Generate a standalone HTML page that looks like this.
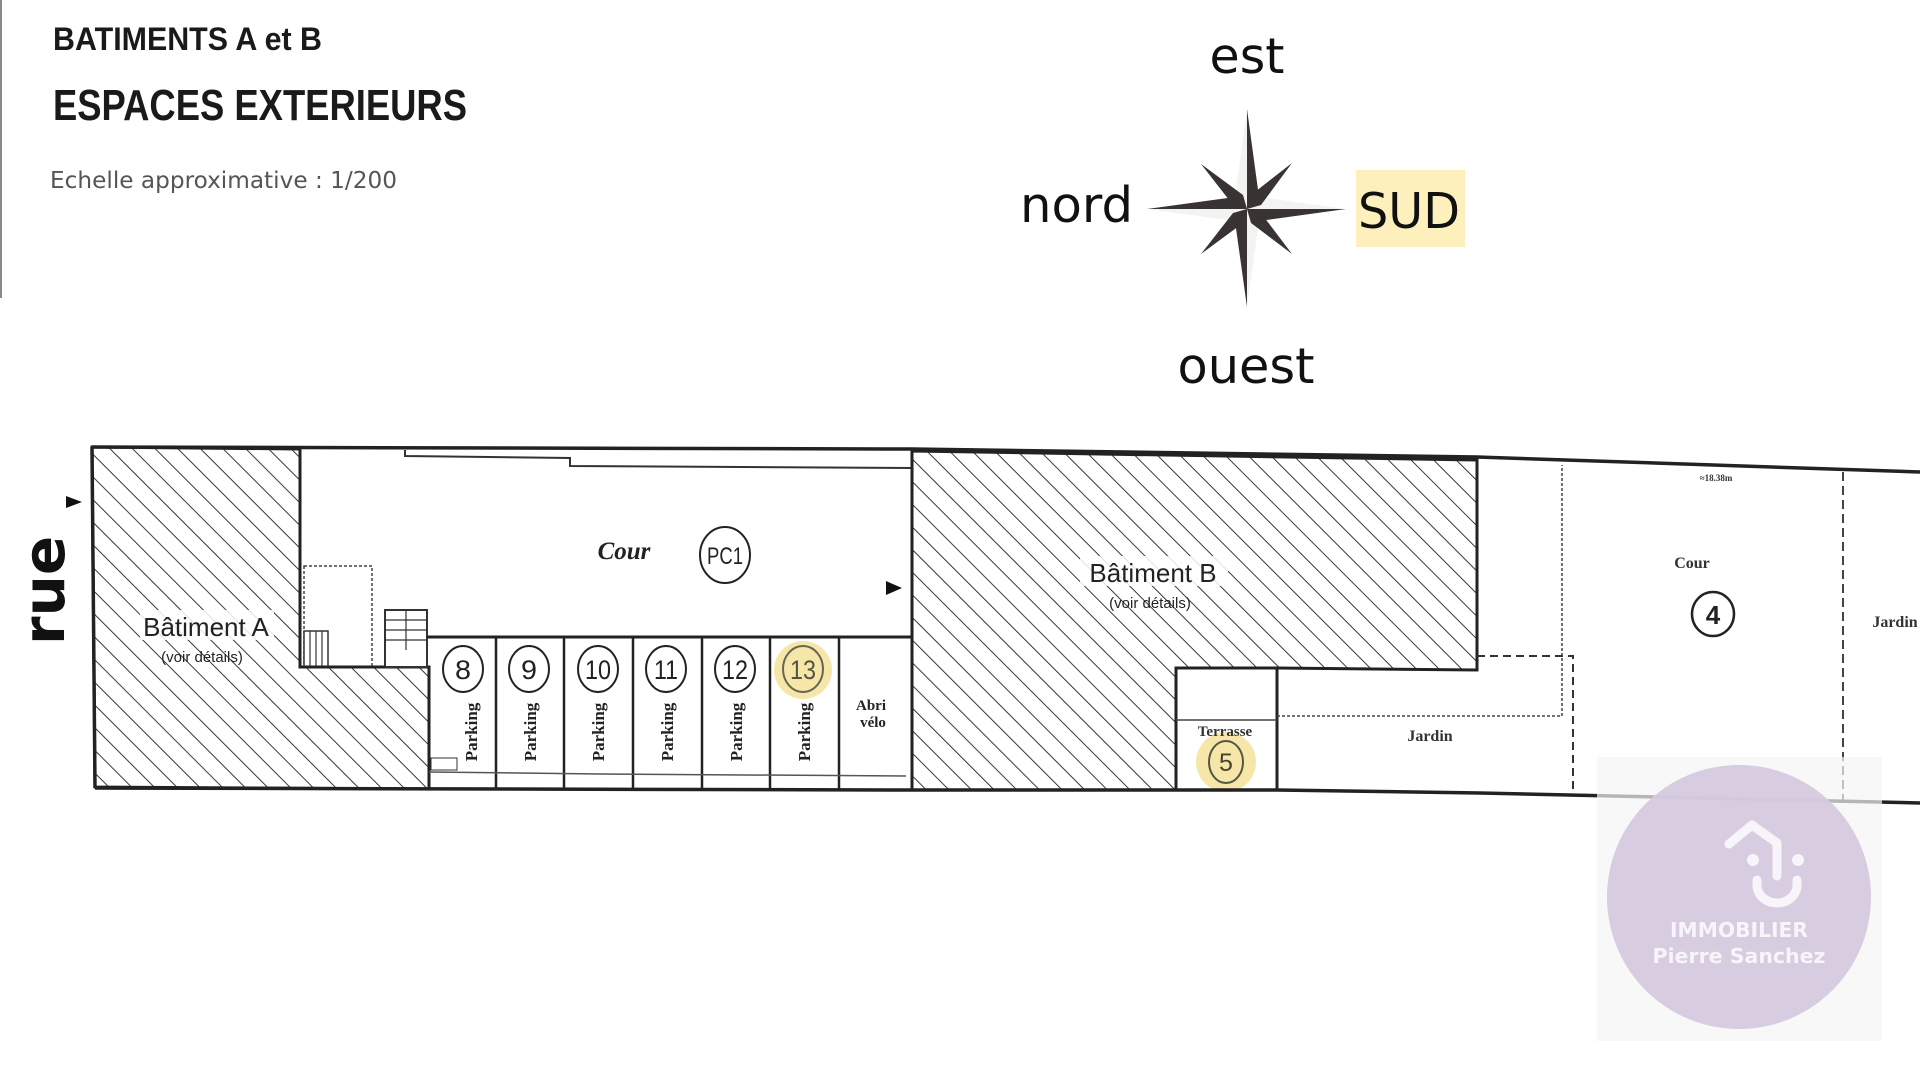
<!DOCTYPE html>
<html><head><meta charset="utf-8"><style>
html,body{margin:0;padding:0;background:#fff;width:1920px;height:1080px;overflow:hidden}
svg{display:block}
</style></head><body>
<svg width="1920" height="1080" viewBox="0 0 1920 1080" xmlns="http://www.w3.org/2000/svg">
<defs>
<pattern id="h" patternUnits="userSpaceOnUse" width="16" height="16" patternTransform="rotate(-45)">
<rect width="16" height="16" fill="#fff"/>
<line x1="0" y1="0" x2="0" y2="16" stroke="#222" stroke-width="1.8"/>
</pattern>
</defs>
<line x1="1" y1="0" x2="1" y2="298" stroke="#888" stroke-width="2"/>

<!-- titles -->
<text x="53" y="50" font-family="Liberation Sans, sans-serif" font-weight="bold" font-size="32" textLength="269" lengthAdjust="spacingAndGlyphs" fill="#1a1a1a">BATIMENTS  A et B</text>
<text x="53" y="120" font-family="Liberation Sans, sans-serif" font-weight="bold" font-size="44" textLength="414" lengthAdjust="spacingAndGlyphs" fill="#1a1a1a">ESPACES EXTERIEURS</text>
<text x="50" y="188" font-family="DejaVu Sans, sans-serif" font-size="23" textLength="347" lengthAdjust="spacingAndGlyphs" fill="#555">Echelle  approximative  :  1/200</text>

<!-- compass -->
<g font-family="DejaVu Sans, sans-serif" font-size="49" fill="#111">
<text x="1247" y="73" text-anchor="middle">est</text>
<text x="1020" y="222" textLength="113" lengthAdjust="spacingAndGlyphs">nord</text>
<rect x="1356" y="170" width="109" height="77" fill="#fdf0bd"/>
<text x="1358" y="228" textLength="102" lengthAdjust="spacingAndGlyphs">SUD</text>
<text x="1246" y="383" text-anchor="middle" textLength="137" lengthAdjust="spacingAndGlyphs">ouest</text>
</g>
<g transform="translate(1247,209)">
<g fill="#f3f3f1">
<polygon points="0,-100 -12,-12 0,0"/><polygon points="99,0 12,-12 0,0"/><polygon points="0,98 12,12 0,0"/><polygon points="-100,0 -12,12 0,0"/>
</g>
<g fill="#3a3333">
<polygon points="0,-100 12,-12 0,0"/><polygon points="99,0 12,12 0,0"/><polygon points="0,98 -12,12 0,0"/><polygon points="-100,0 -12,-12 0,0"/>
<polygon points="-46,-45 -4,-14 0,0 -14,-4"/><polygon points="45,-46 14,-4 0,0 4,-14"/>
<polygon points="45,45 4,14 0,0 14,4"/><polygon points="-46,45 -14,4 0,0 -4,14"/>
</g>
</g>

<!-- rue -->
<text transform="translate(64,645) rotate(-90)" font-family="DejaVu Sans, sans-serif" font-weight="bold" font-size="58" fill="#111">rue</text>

<!-- Batiment A hatch -->
<polygon points="92,447 300,449 300,667 429,667 429,789 95,787" fill="url(#h)" stroke="#222" stroke-width="3"/>
<!-- cour area -->
<rect x="300" y="449" width="612" height="188" fill="#fff"/>
<rect x="304" y="566" width="68" height="101" fill="#fff" stroke="#444" stroke-width="1.5" stroke-dasharray="3,2"/>
<rect x="304" y="631" width="24" height="36" fill="#fff" stroke="#333" stroke-width="1.5"/>
<g stroke="#333" stroke-width="1.2"><line x1="310" y1="631" x2="310" y2="667"/><line x1="316" y1="631" x2="316" y2="667"/><line x1="322" y1="631" x2="322" y2="667"/></g>
<rect x="385" y="610" width="42" height="57" fill="#fff" stroke="#333" stroke-width="2"/>
<g stroke="#333" stroke-width="1.2"><line x1="385" y1="620" x2="427" y2="620"/><line x1="385" y1="630" x2="427" y2="630"/><line x1="385" y1="640" x2="427" y2="640"/><line x1="406" y1="610" x2="406" y2="650"/></g>
<line x1="300" y1="449" x2="300" y2="667" stroke="#222" stroke-width="3"/>
<line x1="300" y1="667" x2="385" y2="667" stroke="#222" stroke-width="3"/>
<path d="M405,450 L405,456 L570,458 L570,466 L912,468" fill="none" stroke="#333" stroke-width="2"/>
<line x1="427" y1="637" x2="912" y2="637" stroke="#222" stroke-width="3"/>

<!-- parking -->
<g stroke="#222" stroke-width="2.5">
<line x1="496" y1="637" x2="496" y2="790"/><line x1="564" y1="637" x2="564" y2="790"/><line x1="633" y1="637" x2="633" y2="790"/><line x1="702" y1="637" x2="702" y2="790"/><line x1="770" y1="637" x2="770" y2="790"/><line x1="839" y1="637" x2="839" y2="790"/>
<line x1="429" y1="667" x2="429" y2="790"/>
</g>
<path d="M429,772 L600,774 L906,776" stroke="#555" stroke-width="1.5" fill="none"/>
<rect x="431" y="758" width="26" height="12" fill="#fff" stroke="#333" stroke-width="1"/>
<circle cx="803" cy="670" r="29" fill="#f6e7a8"/>
<g fill="none" stroke="#222" stroke-width="2">
<ellipse cx="463" cy="669" rx="20" ry="23"/><ellipse cx="529" cy="669" rx="20" ry="23"/><ellipse cx="598" cy="669" rx="20" ry="23"/><ellipse cx="666" cy="669" rx="20" ry="23"/><ellipse cx="735" cy="669" rx="20" ry="23"/><ellipse cx="803" cy="669" rx="20" ry="23" stroke="#665"/>
<ellipse cx="725" cy="555" rx="25" ry="28"/>
</g>
<g font-family="Liberation Sans Narrow, Liberation Sans, sans-serif" font-size="27" fill="#222" text-anchor="middle">
<text x="463" y="679" textLength="16" lengthAdjust="spacingAndGlyphs">8</text>
<text x="529" y="679" textLength="16" lengthAdjust="spacingAndGlyphs">9</text>
<text x="598" y="679" textLength="26" lengthAdjust="spacingAndGlyphs">10</text>
<text x="666" y="679" textLength="24" lengthAdjust="spacingAndGlyphs">11</text>
<text x="735" y="679" textLength="26" lengthAdjust="spacingAndGlyphs">12</text>
<text x="803" y="679" textLength="26" lengthAdjust="spacingAndGlyphs" fill="#554">13</text>
<text x="725" y="564" font-size="24" textLength="36" lengthAdjust="spacingAndGlyphs">PC1</text>
</g>
<g font-family="Liberation Serif, serif" font-weight="bold" font-size="17" fill="#222" text-anchor="middle">
<text transform="translate(477,732) rotate(-90)">Parking</text>
<text transform="translate(536,732) rotate(-90)">Parking</text>
<text transform="translate(604,732) rotate(-90)">Parking</text>
<text transform="translate(673,732) rotate(-90)">Parking</text>
<text transform="translate(742,732) rotate(-90)">Parking</text>
<text transform="translate(810,732) rotate(-90)">Parking</text>
<text x="871" y="710" font-size="15">Abri</text>
<text x="873" y="727" font-size="15">vélo</text>
</g>
<text x="624" y="559" font-family="Liberation Serif, serif" font-style="italic" font-weight="bold" font-size="25" fill="#222" text-anchor="middle">Cour</text>
<g font-family="Liberation Sans, sans-serif" fill="#222" text-anchor="middle">
<rect x="140" y="610" width="134" height="30" fill="#fff" opacity="0.85"/>
<text x="206" y="636" font-size="26">Bâtiment A</text>
<text x="202" y="662" font-size="15">(voir détails)</text>
</g>

<!-- Batiment B -->
<polygon points="912,451 1477,460 1477,670 1277,668 1176,668 1176,790 912,790" fill="url(#h)" stroke="#222" stroke-width="3"/>
<line x1="912" y1="449" x2="912" y2="790" stroke="#222" stroke-width="3"/>
<rect x="1176" y="668" width="101" height="122" fill="#fff" stroke="#222" stroke-width="3"/>
<line x1="1176" y1="720" x2="1277" y2="720" stroke="#444" stroke-width="1.5"/>
<g font-family="Liberation Sans, sans-serif" fill="#222" text-anchor="middle">
<rect x="1080" y="556" width="148" height="30" fill="#fff" opacity="0.85"/>
<text x="1153" y="582" font-size="26">Bâtiment B</text>
<text x="1150" y="608" font-size="15">(voir détails)</text>
</g>
<circle cx="1226" cy="762" r="30" fill="#f6e7a8"/>
<ellipse cx="1226" cy="762" rx="17" ry="21" fill="none" stroke="#554" stroke-width="2"/>
<text x="1226" y="771" font-family="Liberation Sans, sans-serif" font-size="25" fill="#443" text-anchor="middle">5</text>
<text x="1225" y="736" font-family="Liberation Serif, serif" font-weight="bold" font-size="15" fill="#333" text-anchor="middle">Terrasse</text>

<!-- right part -->
<polyline points="1477,656 1573,656 1573,790" fill="none" stroke="#333" stroke-width="2" stroke-dasharray="8,5"/>
<polyline points="1277,716 1562,716 1562,465" fill="none" stroke="#444" stroke-width="1.5" stroke-dasharray="3,2"/>
<line x1="1843" y1="472" x2="1843" y2="800" stroke="#444" stroke-width="2" stroke-dasharray="9,5"/>
<g font-family="Liberation Serif, serif" font-weight="bold" font-size="16" fill="#333" text-anchor="middle">
<text x="1430" y="741">Jardin</text>
<text x="1692" y="568">Cour</text>
<text x="1895" y="627">Jardin</text>
<text x="1716" y="481" font-size="9">≈18.38m</text>
</g>
<ellipse cx="1713" cy="614" rx="21" ry="22" fill="none" stroke="#222" stroke-width="2.5"/>
<text x="1713" y="624" font-family="Liberation Sans, sans-serif" font-weight="bold" font-size="26" fill="#222" text-anchor="middle">4</text>

<!-- outer lines -->
<polyline points="92,447 912,449 1477,457 1920,472" fill="none" stroke="#222" stroke-width="3.5"/>
<polyline points="95,788 912,790 1277,790 1480,793 1920,803" fill="none" stroke="#222" stroke-width="3.5"/>
<line x1="92" y1="447" x2="95" y2="788" stroke="#222" stroke-width="3.5"/>

<!-- arrows -->
<polygon points="66,496 82,502 66,508" fill="#111"/>
<polygon points="886,581 902,588 886,595" fill="#111"/>

<!-- logo -->
<rect x="1597" y="757" width="285" height="284" fill="#f5f5f5" opacity="0.7"/>
<circle cx="1739" cy="897" r="132" fill="#d5c9de" opacity="0.95"/>
<g stroke="#f7f5f9" stroke-width="9" fill="none" stroke-linecap="round" stroke-linejoin="round">
<polyline points="1729,844 1752,825 1777,843 1777,876"/>
<path d="M1757,880 L1757,885 A20,18 0 0 0 1797,885 L1797,880"/>
</g>
<circle cx="1753" cy="860" r="6" fill="#f7f5f9"/><circle cx="1798" cy="860" r="6" fill="#f7f5f9"/>
<g font-family="DejaVu Sans, sans-serif" font-weight="bold" fill="#f7f5f9" text-anchor="middle">
<text x="1739" y="937" font-size="20" textLength="138" lengthAdjust="spacingAndGlyphs">IMMOBILIER</text>
<text x="1739" y="963" font-size="20" textLength="173" lengthAdjust="spacingAndGlyphs">Pierre Sanchez</text>
</g>
</svg>
</body></html>
